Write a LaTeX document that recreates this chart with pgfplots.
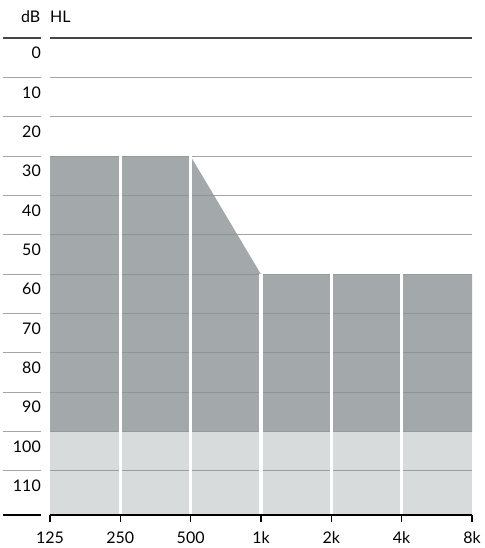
\documentclass[border=0pt]{standalone}
\usepackage{pgfplots}
\pgfplotsset{compat=1.18}
\usepackage{fontspec}
\setmainfont{Lato}

\definecolor{lossdark}{RGB}{163,168,170}
\definecolor{losslight}{RGB}{215,219,219}
\definecolor{gridgray}{RGB}{138,143,144}
\definecolor{topline}{RGB}{70,70,70}

\begin{document}
\begin{tikzpicture}[x=1pt,y=1pt]
\useasboundingbox (0,0) rectangle (484,548);
\fontsize{16}{19}\selectfont
% axis title in the label column
\node[anchor=base east, inner sep=0pt] at (40.5,525) {dB};
\node[anchor=base west, inner sep=0pt] at (50,525) {HL};
\begin{axis}[
  at={(50pt,33pt)}, anchor=south west,
  scale only axis, width=422pt, height=476.7pt,
  xmin=0, xmax=6, ymin=0, ymax=121.2,
  y dir=reverse,
  enlargelimits=false, clip=false,
  axis on top,
  axis x line=bottom, axis y line=none,
  x axis line style={-, black, line width=1.4pt},
  xtick={0,...,6},
  xticklabels={125,250,500,1k,2k,4k,8k},
  tick align=outside,
  major tick length=7pt,
  xtick style={black, line width=1.1pt},
  xticklabel style={anchor=north, inner sep=0pt, yshift=-9.5pt, font=\fontsize{16}{19}\selectfont},
  ytick=\empty,
]
% moderate-to-severe loss region (30 dB low, sloping to 60 dB from 1k)
\addplot[fill=lossdark, draw=none] coordinates {(0,30) (2,30) (3,60) (6,60) (6,100) (0,100)} -- cycle;
% profound region below 100 dB
\addplot[fill=losslight, draw=none] coordinates {(0,100) (6,100) (6,121.2) (0,121.2)} -- cycle;

% horizontal level lines
\pgfplotsinvokeforeach{10,20,30,40,50,60,70,80,90,100,110}{
  \draw[gridgray, opacity=0.8, line width=1pt] (axis cs:0,#1) -- (axis cs:6,#1);
  \draw[gridgray, opacity=0.8, line width=1pt] (axis cs:-0.668,#1) -- (axis cs:-0.128,#1);
  \node[anchor=north east, inner sep=0pt, yshift=-8.6pt] at (axis cs:-0.128,#1) {#1};
}
\draw[topline, line width=1.6pt] (axis cs:0,0) -- (axis cs:6,0);
\draw[topline, line width=1.6pt] (axis cs:-0.668,0) -- (axis cs:-0.128,0);
\node[anchor=north east, inner sep=0pt, yshift=-8.6pt] at (axis cs:-0.128,0) {0};
\draw[black, line width=1.4pt] (axis cs:-0.668,121.2) -- (axis cs:-0.128,121.2);

% white separators between octave bands
\draw[white, line width=3.5pt] (axis cs:1,30) -- (axis cs:1,121.2);
\draw[white, line width=3.5pt] (axis cs:2,30) -- (axis cs:2,121.2);
\pgfplotsinvokeforeach{3,4,5}{
  \draw[white, line width=3.5pt] (axis cs:#1,60) -- (axis cs:#1,121.2);
}
\end{axis}
\end{tikzpicture}
\end{document}
